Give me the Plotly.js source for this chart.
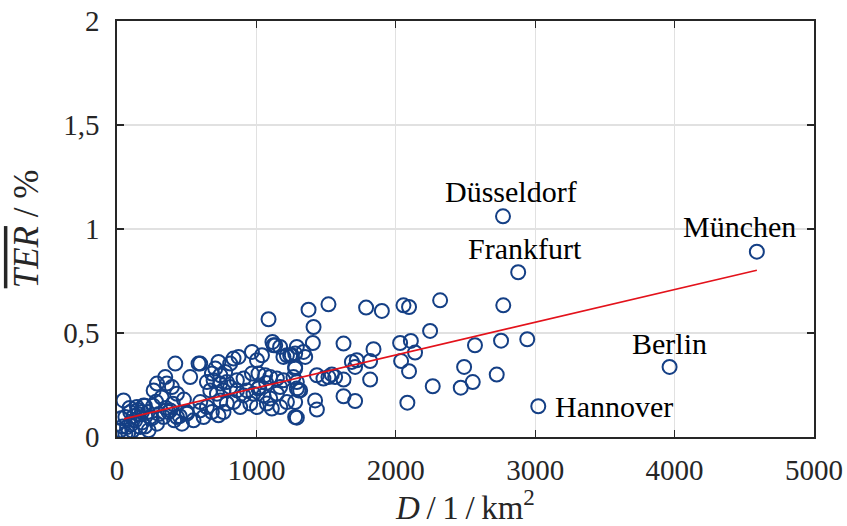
<!DOCTYPE html>
<html>
<head>
<meta charset="utf-8">
<script src="https://cdn.plot.ly/plotly-3.0.1.min.js"></script>
<style>html,body{margin:0;padding:0;background:#fff;}#chart{width:847px;height:526px;}</style>
</head>
<body>
<div id="chart"></div>
<script>
// Population density D (1/km^2)
const D = [
1787,1900,2055,2095,2318,2771,2246,1625,1840,2031,2108,2138,2038,1685,1720,1708,1816,2568,2755,2943,
1625,1816,2095,2490,2552,2724,2466,2265,1625,1708,2083,1374,1517,1410,1405,1242,1278,1338,1350,1278,
1434,1481,1517,1541,1565,1290,1314,1278,1421,1434,1290,1123,1170,1219,1290,968,1004,1040,836,872,
812,728,705,681,597,776,741,968,1015,1063,1099,1266,1290,1302,1147,1194,1170,932,979,1015,
1051,1099,1147,956,1004,1075,1111,1171,1219,1278,597,645,681,728,764,621,669,717,764,812,
860,908,836,884,788,741,645,693,741,788,860,908,418,585,525,346,287,263,358,394,
430,47,60,95,143,191,179,131,72,24,60,167,227,239,287,334,382,430,466,502,
549,597,1087,1115,1135,1194,1254,1278,100,120,150,200,250,300,350,400,450,80,
40,180,220,280,320,370,410,480,500,30,110,150,260,200,90,1020,1070,
2769,2878,4590,3964,3022
];
// Mean TER (%)
const TER = [
0.622,0.606,0.633,0.625,0.657,0.633,0.510,0.449,0.422,0.452,0.462,0.406,0.365,0.361,0.369,0.337,0.365,0.441,0.463,0.470,
0.276,0.276,0.316,0.337,0.264,0.300,0.237,0.244,0.196,0.173,0.165,0.612,0.638,0.529,0.452,0.393,0.401,0.409,0.385,0.337,
0.297,0.281,0.288,0.301,0.288,0.233,0.224,0.168,0.176,0.132,0.093,0.441,0.433,0.393,0.433,0.409,0.369,0.393,0.377,0.385,
0.353,0.361,0.329,0.305,0.353,0.313,0.297,0.305,0.305,0.297,0.288,0.288,0.264,0.224,0.281,0.273,0.240,0.224,0.208,0.233,
0.200,0.185,0.208,0.161,0.144,0.161,0.137,0.144,0.168,0.096,0.168,0.144,0.120,0.104,0.120,0.096,0.224,0.208,0.224,0.240,
0.224,0.200,0.168,0.144,0.161,0.176,0.264,0.273,0.257,0.264,0.273,0.281,0.353,0.353,0.288,0.288,0.257,0.224,0.257,0.240,
0.208,0.176,0.096,0.120,0.144,0.152,0.120,0.080,0.048,0.032,0.016,0.048,0.032,0.096,0.064,0.096,0.128,0.096,0.064,0.112,
0.080,0.128,0.566,0.457,0.441,0.385,0.393,0.329,0.060,0.100,0.130,0.150,0.090,0.110,0.140,0.160,0.100,0.020,
0.050,0.070,0.120,0.170,0.190,0.120,0.080,0.180,0.120,0.090,0.030,0.110,0.150,0.050,0.140,0.240,0.260,
1.061,0.792,0.891,0.337,0.148
];
// Labelled cities
const cityNames = ["Düsseldorf","Frankfurt","München","Berlin","Hannover"];
const cityD = [2769,2878,4590,3964,3022];
const cityTER = [1.061,0.792,0.891,0.337,0.148];
// Linear fit line endpoints
const fitD = [50, 4590];
const fitTER = [0.087, 0.802];

const serif = "Liberation Serif";

const labelPos = {
  "Düsseldorf": {dx: 58, dy: 1.181, xa: "center"},
  "Frankfurt": {dx: 49, dy: 0.907, xa: "center"},
  "München": {dx: -123, dy: 1.013, xa: "center"},
  "Berlin": {dx: 1, dy: 0.450, xa: "center"},
  "Hannover": {dx: 106, dy: 0.148, xa: "left"}
};

const annotations = cityNames.map((n, i) => ({
  x: cityD[i] + labelPos[n].dx,
  y: labelPos[n].dy,
  xref: "x", yref: "y",
  text: n, showarrow: false,
  xanchor: labelPos[n].xa, yanchor: "middle",
  font: {family: serif, size: 30, color: "#000"}
}));

const traces = [
  {
    x: D, y: TER, type: "scatter", mode: "markers",
    marker: {symbol: "circle-open", size: 14, color: "#143f85", line: {width: 2, color: "#143f85"}},
    hoverinfo: "skip", showlegend: false
  },
  {
    x: fitD, y: fitTER, type: "scatter", mode: "lines",
    line: {color: "#e3121b", width: 1.6},
    hoverinfo: "skip", showlegend: false
  }
];

const layout = {
  width: 847, height: 526,
  margin: {l: 117, r: 33, t: 21, b: 89},
  paper_bgcolor: "#fff", plot_bgcolor: "#fff",
  separators: ",.",
  showlegend: false,
  font: {family: serif, size: 29, color: "#262626"},
  xaxis: {
    range: [0, 5000], tickvals: [0,1000,2000,3000,4000,5000],
    showgrid: true, gridcolor: "#e1e1e1", gridwidth: 1.2,
    zeroline: false, showline: true, linecolor: "#262626", linewidth: 1.6, mirror: "ticks",
    ticks: "inside", ticklen: 7, tickwidth: 1.4, tickcolor: "#262626",
    tickfont: {family: serif, size: 29, color: "#262626"},
    ticklabelstandoff: 7,
    title: {text: "<i>D</i>\u2009/\u20091\u2009/\u2009km<sup>2</sup>", font: {family: serif, size: 33, color: "#262626"}, standoff: 10}
  },
  yaxis: {
    range: [0, 2], tickvals: [0,0.5,1,1.5,2],
    showgrid: true, gridcolor: "#e1e1e1", gridwidth: 1.2,
    zeroline: false, showline: true, linecolor: "#262626", linewidth: 1.6, mirror: "ticks",
    ticks: "inside", ticklen: 7, tickwidth: 1.4, tickcolor: "#262626",
    tickfont: {family: serif, size: 29, color: "#262626"},
    ticklabelstandoff: 10,
    title: {text: "<span style=\"text-decoration:overline\"><i>TER</i></span> / %", font: {family: serif, size: 35, color: "#262626"}, standoff: 14}
  },
  annotations: annotations
};

Plotly.newPlot("chart", traces, layout, {staticPlot: true, displayModeBar: false});
</script>
</body>
</html>
